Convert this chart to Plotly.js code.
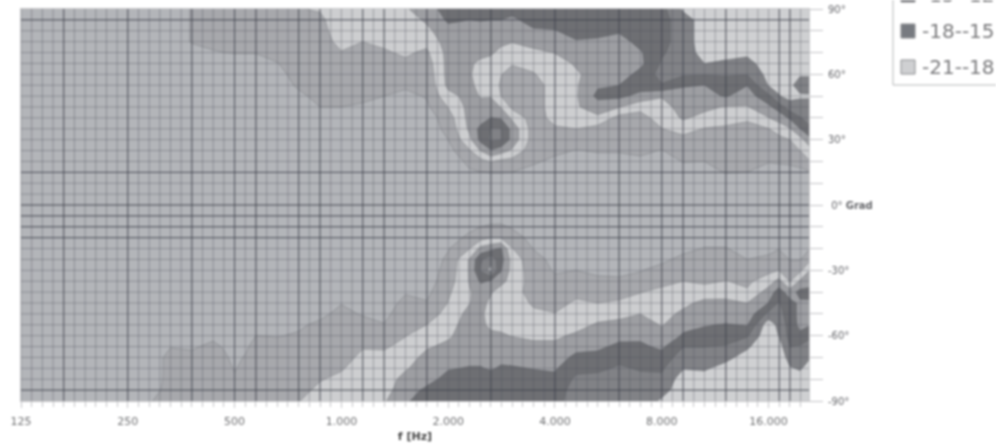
<!DOCTYPE html>
<html><head><meta charset="utf-8">
<script src="https://cdn.plot.ly/plotly-3.0.1.min.js"></script>
<style>html,body{margin:0;padding:0;background:#fff;overflow:hidden}#chart{width:996px;height:447px;filter:blur(0.8px)}</style>
</head><body><div id="chart"></div>
<script>
// Frequency of each data column (Hz)
const frequencies=[125,144,165,189,218,250,287,330,379,435,467,500,536,574,660,758,871,1000,1149,1320,1516,1741,2000,2297,2470,2639,2817,3031,3482,4000,4595,5278,6063,6964,8000,9190,10556,12126,13929,16000,17100,18379,19620,21112];
// Angle of each data row (degrees)
const angles=[90,85,80,75,70,65,60,55,50,45,40,35,30,25,20,15,10,5,0,-5,-10,-15,-20,-25,-30,-35,-40,-45,-50,-55,-60,-65,-70,-75,-80,-85,-90];
// Level in dB per frequency column, top row (90) to bottom row (-90)
const levels=[
[-1.5,-1.5,-1.5,-1.5,-1.5,-1.5,-1.5,-1.5,-1.5,-1.5,-1.5,-1.5,-1.5,-1.5,-1.5,-1.5,-1.5,-1.5,-1.5,-1.5,-1.5,-1.5,-1.5,-1.5,-1.5,-1.5,-1.5,-1.5,-1.5,-1.5,-1.5,-1.5,-1.5,-1.5,-1.5,-1.5,-1.5],
[-1.5,-1.5,-1.5,-1.5,-1.5,-1.5,-1.5,-1.5,-1.5,-1.5,-1.5,-1.5,-1.5,-1.5,-1.5,-1.5,-1.5,-1.5,-1.5,-1.5,-1.5,-1.5,-1.5,-1.5,-1.5,-1.5,-1.5,-1.5,-1.5,-1.5,-1.5,-1.5,-1.5,-1.5,-1.5,-1.5,-1.5],
[-1.5,-1.5,-1.5,-1.5,-1.5,-1.5,-1.5,-1.5,-1.5,-1.5,-1.5,-1.5,-1.5,-1.5,-1.5,-1.5,-1.5,-1.5,-1.5,-1.5,-1.5,-1.5,-1.5,-1.5,-1.5,-1.5,-1.5,-1.5,-1.5,-1.5,-1.5,-1.5,-1.5,-1.5,-1.5,-1.5,-1.5],
[-1.5,-1.5,-1.5,-1.5,-1.5,-1.5,-1.5,-1.5,-1.5,-1.5,-1.5,-1.5,-1.5,-1.5,-1.5,-1.5,-1.5,-1.5,-1.5,-1.5,-1.5,-1.5,-1.5,-1.5,-1.5,-1.5,-1.5,-1.5,-1.5,-1.5,-1.5,-1.5,-1.5,-1.5,-1.5,-1.5,-1.5],
[-1.5,-1.5,-1.5,-1.5,-1.5,-1.5,-1.5,-1.5,-1.5,-1.5,-1.5,-1.5,-1.5,-1.5,-1.5,-1.5,-1.5,-1.5,-1.5,-1.5,-1.5,-1.5,-1.5,-1.5,-1.5,-1.5,-1.5,-1.5,-1.5,-1.5,-1.5,-1.5,-1.5,-1.5,-1.5,-1.5,-1.5],
[-1.5,-1.5,-1.5,-1.5,-1.5,-1.5,-1.5,-1.5,-1.5,-1.5,-1.5,-1.5,-1.5,-1.5,-1.5,-1.5,-1.5,-1.5,-1.5,-1.5,-1.5,-1.5,-1.5,-1.5,-1.5,-1.5,-1.5,-1.5,-1.5,-1.5,-1.5,-1.5,-1.5,-1.5,-1.5,-1.5,-1.5],
[-1.5,-1.5,-1.5,-1.5,-1.5,-1.5,-1.5,-1.5,-1.5,-1.5,-1.5,-1.5,-1.5,-1.5,-1.5,-1.5,-1.5,-1.5,-1.5,-1.5,-1.5,-1.5,-1.5,-1.5,-1.5,-1.5,-1.5,-1.5,-1.5,-1.5,-1.5,-1.5,-1.5,-1.5,-1.6,-1.8,-2.8],
[-1.2,-1.2,-1.2,-1.2,-1.5,-1.5,-1.5,-1.5,-1.5,-1.5,-1.5,-1.5,-1.5,-1.5,-1.5,-1.5,-1.5,-1.5,-1.5,-1.5,-1.5,-1.5,-1.5,-1.5,-1.5,-1.5,-1.5,-1.5,-1.5,-1.5,-2.2,-2.9,-3.8,-3.8,-3.8,-4,-4],
[-3.2,-3.2,-3.2,-3.2,-2,-1.5,-1.5,-1.5,-1.5,-1.5,-1.5,-1.5,-1.5,-1.5,-1.5,-1.5,-1.5,-1.5,-1.5,-1.5,-1.5,-1.5,-1.5,-1.5,-1.5,-1.5,-1.5,-1.5,-1.5,-1.6,-2,-2.7,-3.6,-4.2,-4.5,-4.5,-4.5],
[-4.5,-4.5,-4.5,-4,-2.7,-1.5,-1.5,-1.5,-1.5,-1.5,-1.5,-1.5,-1.5,-1.5,-1.5,-1.5,-1.5,-1.5,-1.5,-1.5,-1.5,-1.5,-1.5,-1.5,-1.5,-1.5,-1.5,-1.5,-1.5,-1.8,-2.5,-3.5,-4.5,-4.5,-4.5,-4.5,-4.5],
[-4.5,-4.5,-4.5,-4.1,-3,-1.8,-1.5,-1.5,-1.5,-1.5,-1.5,-1.5,-1.5,-1.5,-1.5,-1.5,-1.5,-1.5,-1.5,-1.5,-1.5,-1.5,-1.5,-1.5,-1.5,-1.5,-1.5,-1.5,-1.5,-1.5,-1.8,-2.8,-3.4,-4.5,-4.5,-4.5,-4.5],
[-4.5,-4.5,-4.5,-4.2,-3.1,-2,-1.5,-1.5,-1.5,-1.5,-1.5,-1.5,-1.5,-1.5,-1.5,-1.5,-1.5,-1.5,-1.5,-1.5,-1.5,-1.5,-1.5,-1.5,-1.5,-1.5,-1.5,-1.5,-1.5,-1.5,-1.6,-2,-2.4,-2.7,-3.5,-4.5,-4.5],
[-4.5,-4.5,-4.5,-4.2,-3.1,-2,-1.5,-1.5,-1.5,-1.5,-1.5,-1.5,-1.5,-1.5,-1.5,-1.5,-1.5,-1.5,-1.5,-1.5,-1.5,-1.5,-1.5,-1.5,-1.5,-1.5,-1.5,-1.5,-1.5,-1.5,-1.8,-2.5,-3.2,-4.2,-4.5,-4.5,-4.5],
[-4.5,-4.5,-4.5,-4.2,-3.1,-2,-1.5,-1.5,-1.5,-1.5,-1.5,-1.5,-1.5,-1.5,-1.5,-1.5,-1.5,-1.5,-1.5,-1.5,-1.5,-1.5,-1.5,-1.5,-1.5,-1.5,-1.5,-1.5,-1.7,-2.3,-3,-4,-4.5,-4.5,-4.5,-4.5,-4.5],
[-4.5,-4.5,-4.5,-4.4,-3.8,-2.9,-2,-1.5,-1.5,-1.5,-1.5,-1.5,-1.5,-1.5,-1.5,-1.5,-1.5,-1.5,-1.5,-1.5,-1.5,-1.5,-1.5,-1.5,-1.5,-1.5,-1.5,-1.5,-1.5,-2,-2.9,-3.7,-4.5,-4.5,-4.5,-4.5,-4.5],
[-5.9,-5.2,-4.8,-4.5,-4.5,-4.5,-4.2,-3.5,-2.3,-1.5,-1.5,-1.5,-1.5,-1.5,-1.5,-1.5,-1.5,-1.5,-1.5,-1.5,-1.5,-1.5,-1.5,-1.5,-1.5,-1.5,-1.5,-1.5,-2,-2.7,-3.2,-4,-4.5,-4.5,-4.7,-5,-5.9],
[-6.2,-5.5,-5,-4.5,-4.5,-4.5,-4.5,-4.5,-4,-3,-2,-1.5,-1.5,-1.5,-1.5,-1.5,-1.5,-1.5,-1.5,-1.5,-1.5,-1.5,-1.5,-1.5,-1.5,-1.5,-1.6,-2,-2.5,-3.4,-4,-4.5,-4.5,-5.2,-5.8,-6.7,-7.2],
[-7.5,-7.5,-7.5,-7,-5.8,-5,-4.5,-4.5,-4,-3,-2,-1.5,-1.5,-1.5,-1.5,-1.5,-1.5,-1.5,-1.5,-1.5,-1.5,-1.5,-1.5,-1.5,-1.5,-1.5,-2,-2.9,-3.6,-4.2,-4.5,-4.7,-5,-5.7,-6.7,-7.5,-7.5],
[-7.5,-7.5,-7.5,-6,-5,-4.5,-4.5,-4.2,-3.5,-2.7,-1.5,-1.5,-1.5,-1.5,-1.5,-1.5,-1.5,-1.5,-1.5,-1.5,-1.5,-1.5,-1.5,-1.5,-1.5,-1.5,-1.7,-2.2,-2.8,-3.8,-4.6,-5.8,-6.6,-7.5,-7.5,-7.5,-7.5],
[-7.5,-7.5,-7.5,-6.5,-5.7,-4.8,-4.5,-3.8,-3,-2,-1.5,-1.5,-1.5,-1.5,-1.5,-1.5,-1.5,-1.5,-1.5,-1.5,-1.5,-1.5,-1.5,-1.5,-1.5,-1.5,-1.5,-1.8,-2.4,-3.1,-4.4,-5.7,-6.6,-7.3,-7.5,-8,-8.7],
[-8.8,-7.5,-7.2,-6.8,-6.4,-5.5,-4,-3.4,-2.4,-1.5,-1.5,-1.5,-1.5,-1.5,-1.5,-1.5,-1.5,-1.5,-1.5,-1.5,-1.5,-1.5,-1.5,-1.5,-1.5,-1.8,-2.8,-3.7,-4.3,-5,-5.9,-6.7,-7.8,-8.7,-10,-10.5,-11.6],
[-10,-9.5,-8.3,-6.8,-5.5,-4.5,-4,-3.5,-3.2,-2.5,-1.5,-1.5,-1.5,-1.5,-1.5,-1.5,-1.5,-1.5,-1.5,-1.5,-1.5,-1.5,-1.5,-1.5,-1.5,-1.7,-2.3,-3.2,-4.5,-6,-7.5,-8.7,-9.8,-10.5,-11,-12.7,-13.5],
[-14,-12.5,-11,-10.5,-10,-10,-10,-9.8,-8,-6.1,-4.5,-3.8,-3,-2,-1.5,-1.5,-1.5,-1.5,-1.5,-1.5,-1.6,-2.2,-2.8,-3.5,-4,-4.5,-5.5,-6.1,-7,-7.8,-8.6,-9.6,-10.8,-11.8,-13,-13.5,-13.5],
[-14,-12,-10.8,-10.5,-9.5,-9.2,-9.2,-9.5,-10,-10,-10,-9.6,-8.2,-5.7,-3.6,-2.7,-1.5,-1.5,-1.5,-1.7,-2.6,-3.4,-5.9,-9.3,-9.3,-9.2,-8.8,-8.9,-10,-10.5,-10.5,-10.5,-11.2,-12.2,-13.5,-13.5,-13.5],
[-14,-12.2,-10.5,-10,-9.4,-8.7,-8.2,-8.3,-8.8,-10,-10.5,-13,-13,-9.2,-4.9,-2.9,-1.5,-1.5,-1.5,-2,-3,-4.8,-10,-14.6,-15.3,-12.5,-10,-10,-9.5,-9.6,-10,-10.5,-11.2,-12.2,-13.5,-13.5,-13.5],
[-14,-12,-10.5,-10,-9.4,-8,-7.5,-7.5,-8.8,-10.5,-12.1,-15.2,-15.5,-11.8,-6.2,-3.1,-1.5,-1.5,-1.5,-2.3,-3.2,-5.9,-11,-17,-19,-11.7,-9.3,-8.3,-8,-8.4,-9.6,-10.5,-11,-11.7,-13.5,-13.5,-13.5],
[-12.8,-12,-10.5,-9.6,-8.3,-7.5,-6.1,-5.7,-6,-8.9,-11.8,-15.1,-15.2,-10.5,-5.2,-3.1,-1.6,-1.5,-1.5,-2.1,-3.3,-5.8,-12.5,-13.2,-12.3,-10,-7.6,-7.5,-7.5,-8.4,-9.3,-10.4,-11.2,-12.4,-13.5,-13.5,-13.5],
[-13,-11.5,-10.5,-9.1,-8,-6.2,-5,-4.5,-4.5,-5.2,-8.4,-11,-11,-8.5,-4.8,-3,-1.5,-1.5,-1.5,-1.8,-2.8,-3.9,-6.1,-7.8,-7.8,-7.8,-7,-7.5,-7.5,-8,-8.9,-10.2,-11,-12.3,-13.5,-13.5,-13.5],
[-14,-13,-11.7,-10,-8.4,-6.8,-5.8,-4.5,-4.5,-4.5,-4.5,-4.5,-4.5,-4,-3.3,-2.3,-1.5,-1.5,-1.5,-1.5,-1.8,-2.3,-2.9,-3.9,-4.5,-4.7,-5,-5.6,-6.5,-7.8,-8.6,-9.5,-11,-11.9,-13,-13.5,-13.5],
[-14,-13,-11.9,-10.5,-9.1,-8,-7.5,-7.5,-7.5,-7.5,-7,-5.6,-4.5,-3.5,-2.5,-1.5,-1.5,-1.5,-1.5,-1.5,-1.5,-1.7,-2,-2.3,-2.7,-3.6,-4.6,-5.1,-6.1,-7.4,-8.6,-9.5,-10.5,-11.7,-12.6,-13.5,-14],
[-14,-13.5,-13,-11.8,-10.5,-9.3,-8.7,-8.7,-8.7,-8.7,-8,-6,-4.5,-2.9,-2.3,-1.5,-1.5,-1.5,-1.5,-1.5,-1.5,-1.5,-1.7,-2.3,-3,-4.7,-5.3,-6.4,-7.5,-8.2,-9.4,-11,-12.8,-14.2,-15.6,-16.3,-16.5],
[-14,-13.5,-13,-11.5,-10.5,-10.3,-10,-11.6,-12.8,-10.5,-8.4,-4.8,-4.5,-3.2,-2.2,-1.5,-1.5,-1.5,-1.5,-1.5,-1.5,-1.5,-1.6,-2,-2.7,-3.3,-5,-6,-8,-9.3,-10.5,-11.5,-12.8,-14.3,-16,-16.5,-16.5],
[-14,-13.5,-12.4,-10.8,-10.2,-10.2,-10.5,-12,-12.8,-9.2,-4.8,-4.5,-4.5,-3.2,-2.2,-1.5,-1.5,-1.5,-1.5,-1.5,-1.5,-1.5,-1.6,-2,-2.7,-3.2,-5.2,-6.3,-8.4,-9.6,-11.2,-12.6,-14.2,-15.4,-16.5,-16.5,-16.5],
[-14,-14,-13.5,-13,-11.7,-11.3,-13,-13.5,-11,-7,-4.7,-4.7,-4.5,-3.5,-2.5,-1.5,-1.5,-1.5,-1.5,-1.5,-1.5,-1.5,-1.7,-2.2,-2.9,-3.7,-5.9,-7,-9,-10.5,-11.4,-12.5,-14,-14.7,-15.8,-16.5,-16.5],
[-14,-14,-14,-14,-14.5,-15.4,-16,-14.8,-9.2,-8,-7.5,-5.9,-4.5,-2.9,-2,-1.5,-1.5,-1.5,-1.5,-1.5,-1.5,-1.5,-1.9,-2.6,-3.6,-5.3,-6.6,-7.3,-8,-8.8,-9.7,-11.5,-13,-14.6,-15.6,-17,-18.4],
[-18.5,-16.5,-16.5,-16.5,-17,-17.5,-15.4,-12.5,-10,-10,-9.3,-7.5,-4.8,-4.2,-3.1,-2,-1.5,-1.5,-1.5,-1.5,-1.5,-1.8,-2.5,-3.5,-5,-6,-7.5,-8.3,-9.6,-11,-12.4,-14.9,-16.7,-17.8,-19.5,-19.5,-19.5],
[-19.5,-19.5,-19.5,-19.5,-18.7,-18,-15.2,-12,-11,-9.6,-8.3,-5.8,-4.8,-4.4,-3,-2.4,-1.5,-1.5,-1.5,-1.5,-1.6,-2.2,-3.1,-4,-4.7,-5.4,-7.5,-9.8,-10.7,-11.8,-13,-14.9,-16.8,-17.6,-19.2,-19.5,-19.5],
[-19.5,-19.5,-19.5,-19.5,-19,-17.5,-15.3,-13.5,-12.3,-8.8,-7,-5.6,-4.7,-4.3,-3.8,-3.1,-1.8,-1.5,-1.5,-1.5,-1.6,-2.2,-3.1,-4.2,-5.2,-6.1,-8,-9.6,-10.5,-12.2,-13.8,-15.2,-17.2,-19,-19.5,-19.5,-19.5],
[-19.5,-19.5,-19.5,-19.5,-18.6,-17,-15.1,-12.1,-10.5,-8.8,-6.6,-4.8,-4.5,-4,-3.6,-3,-1.8,-1.5,-1.5,-1.5,-1.6,-1.9,-2.3,-3,-4.3,-5.4,-6.4,-9,-10.2,-11.8,-14.6,-17.5,-19.2,-19.5,-19.5,-19.5,-19.5],
[-19.5,-19.5,-19.5,-19.5,-19.5,-19.5,-19,-18.2,-14.3,-11.3,-8.9,-5.9,-5,-4,-3.1,-2.3,-1.5,-1.5,-1.5,-1.5,-1.6,-2,-2.6,-3.3,-5.2,-7.6,-10.3,-12.1,-15.8,-20,-20.5,-20.5,-20.5,-20.5,-20.5,-20.5,-20.5],
[-19.5,-19.5,-19.5,-19.5,-19.5,-19.5,-19.3,-18.8,-17.8,-13.5,-10.1,-7.4,-5,-4.2,-3.2,-2.3,-1.5,-1.5,-1.5,-1.5,-1.6,-2.3,-2.9,-4.5,-6,-10,-13.5,-15.3,-16,-17,-17.9,-19.5,-20.5,-20.5,-20.5,-20.5,-20.5],
[-19.5,-19.5,-19.5,-19.5,-19.5,-19.5,-19.3,-18.6,-19,-16.5,-12.5,-8.8,-6,-4.5,-3.4,-2.2,-1.5,-1.5,-1.5,-1.5,-1.6,-2,-2.3,-2.9,-3.9,-5.8,-10.5,-13,-13.5,-13.8,-14,-14.9,-16.5,-18.3,-19.5,-19.5,-19.5],
[-19.5,-19.5,-19.5,-19.5,-19.5,-19.5,-18.3,-16.8,-18.4,-16.8,-14.8,-12,-7.8,-6,-3.7,-2.5,-1.5,-1.5,-1.5,-1.5,-1.6,-2.1,-2.2,-2.8,-5.2,-9.5,-13,-11.5,-11.2,-11.3,-12.6,-15.3,-16.5,-17.6,-19.5,-19.5,-19.5],
[-19.5,-19.5,-19.5,-19.5,-19.5,-19.5,-18.4,-16.5,-18.3,-16.8,-16,-14.8,-11.5,-8.4,-6.1,-2.9,-1.5,-1.5,-1.5,-1.5,-1.6,-2.3,-3.1,-5.9,-9.6,-10.3,-13.5,-11.3,-11.2,-12,-14.6,-16.3,-18,-19.5,-19.5,-19.5,-19.5]
];
const z=angles.map((_,r)=>levels.map(col=>col[r]));

// Band colours from -21..-18 (first) up to -3..0 (last)
const bandColors=['#cfd0d2','#818286','#6e6f73','#9d9ea2','#cdced0','#a7a8ac','#b3b5b9'];
const legendLabels=['-15--12','-18--15','-21--18'];
const legendColors=['#6e6f73','#777a80','#cfd0d2'];

// Axis labels
const xTickFreqs=[125,250,500,1000,2000,4000,8000,16000];
const xTickText=['125','250','500','1.000','2.000','4.000','8.000','16.000'];
const yTickVals=[90,80,70,60,50,40,30,20,10,0,-10,-20,-30,-40,-50,-60,-70,-80,-90];
const yTickText=['90°','','','60°','','','30°','','','&nbsp;0° <b>Grad</b>','','','-30°','','','-60°','','','-90°'];

// Grid: tenth-octave steps and 5 degree steps
const octaveSteps=[];for(let k=0;k<=74;k++)octaveSteps.push(k);
const darkSteps=[4,10,16,20,22,26,28,32,34,38,44,50,56,60,62,66,71,72];
const minorDegrees=[];for(let d=-85;d<=85;d+=5)minorDegrees.push(d);
const darkDegrees=[85,15,0,-5,-10,-15,-85];
const stepHz=k=>125*Math.pow(2,k/10);
const xMax=20800, xMin=125;

function gridTrace(vSteps,hDeg,color){
  const xs=[],ys=[];
  vSteps.forEach(k=>{xs.push(stepHz(k),stepHz(k),null);ys.push(-90,90,null);});
  hDeg.forEach(d=>{xs.push(xMin,xMax,null);ys.push(d,d,null);});
  return {type:'scatter',mode:'lines',x:xs,y:ys,line:{color:color,width:1},hoverinfo:'skip',showlegend:false,connectgaps:false};
}

const n=bandColors.length, scale=[];
bandColors.forEach((c,i)=>{scale.push([i/n,c],[(i+1)/n,c]);});

const traces=[
 {type:'contour',x:frequencies,y:angles,z:z,autocontour:false,
  contours:{start:-18,end:-3,size:3,coloring:'fill',showlines:true},
  line:{color:'rgba(85,86,92,0.55)',width:0.5,smoothing:0},
  colorscale:scale,showscale:false,hoverinfo:'skip'},
 gridTrace(octaveSteps,minorDegrees,'rgba(80,82,92,0.38)'),
 gridTrace(darkSteps,darkDegrees,'rgba(60,62,72,0.7)')
];

const W=788,H=392,L=21,T=9;
const px=v=>(v-L)/W, py=v=>(T+H-v)/H;
const shapes=[{type:'rect',xref:'paper',yref:'paper',x0:px(893),x1:px(1010),y0:py(85),y1:py(-12),line:{color:'#b5b6b8',width:1},fillcolor:'#fff'}];
const annotations=[];
legendLabels.forEach((t,i)=>{
  const cy=-5+i*36;
  shapes.push({type:'rect',xref:'paper',yref:'paper',x0:px(901),x1:px(915),y0:py(cy+7),y1:py(cy-7),fillcolor:legendColors[i],line:{color:'#8c8d90',width:1}});
  annotations.push({xref:'paper',yref:'paper',x:px(920),y:py(cy),xanchor:'left',yanchor:'middle',text:t,showarrow:false,font:{family:'DejaVu Sans, sans-serif',size:20,color:'#7a7a7c'}});
});

const layout={
 width:996,height:447,paper_bgcolor:'#fff',plot_bgcolor:'#b3b5b9',
 margin:{l:L,r:187,t:T,b:46,pad:0},showlegend:false,shapes:shapes,annotations:annotations,
 xaxis:{type:'log',range:[Math.log10(xMin),Math.log10(xMax)],tickmode:'array',tickvals:xTickFreqs,ticktext:xTickText,
  ticks:'outside',ticklen:6,tickcolor:'#c4c4c6',tickwidth:1,showgrid:false,zeroline:false,showline:true,linecolor:'#c9c9cb',linewidth:1,mirror:true,
  ticklabelstandoff:4,
  tickfont:{family:'DejaVu Sans, sans-serif',size:11,color:'#6e6f71'},
  minor:{tickmode:'array',tickvals:octaveSteps.map(stepHz),ticks:'outside',ticklen:5,tickcolor:'#c4c4c6',showgrid:false},
  title:{text:'<b>f [Hz]</b>',standoff:5,font:{family:'DejaVu Sans, sans-serif',size:11,color:'#444'}}},
 yaxis:{side:'right',range:[-90,90],tickmode:'array',tickvals:yTickVals,ticktext:yTickText,
  ticks:'outside',ticklen:13,tickcolor:'#c4c4c6',tickwidth:1,showgrid:false,zeroline:false,showline:true,linecolor:'#c9c9cb',linewidth:1,mirror:true,
  ticklabelstandoff:3,
  tickfont:{family:'DejaVu Sans, sans-serif',size:10,color:'#65666a'}},
 font:{family:'DejaVu Sans, sans-serif'}
};
Plotly.newPlot('chart',traces,layout,{staticPlot:true,displayModeBar:false});
</script></body></html>
